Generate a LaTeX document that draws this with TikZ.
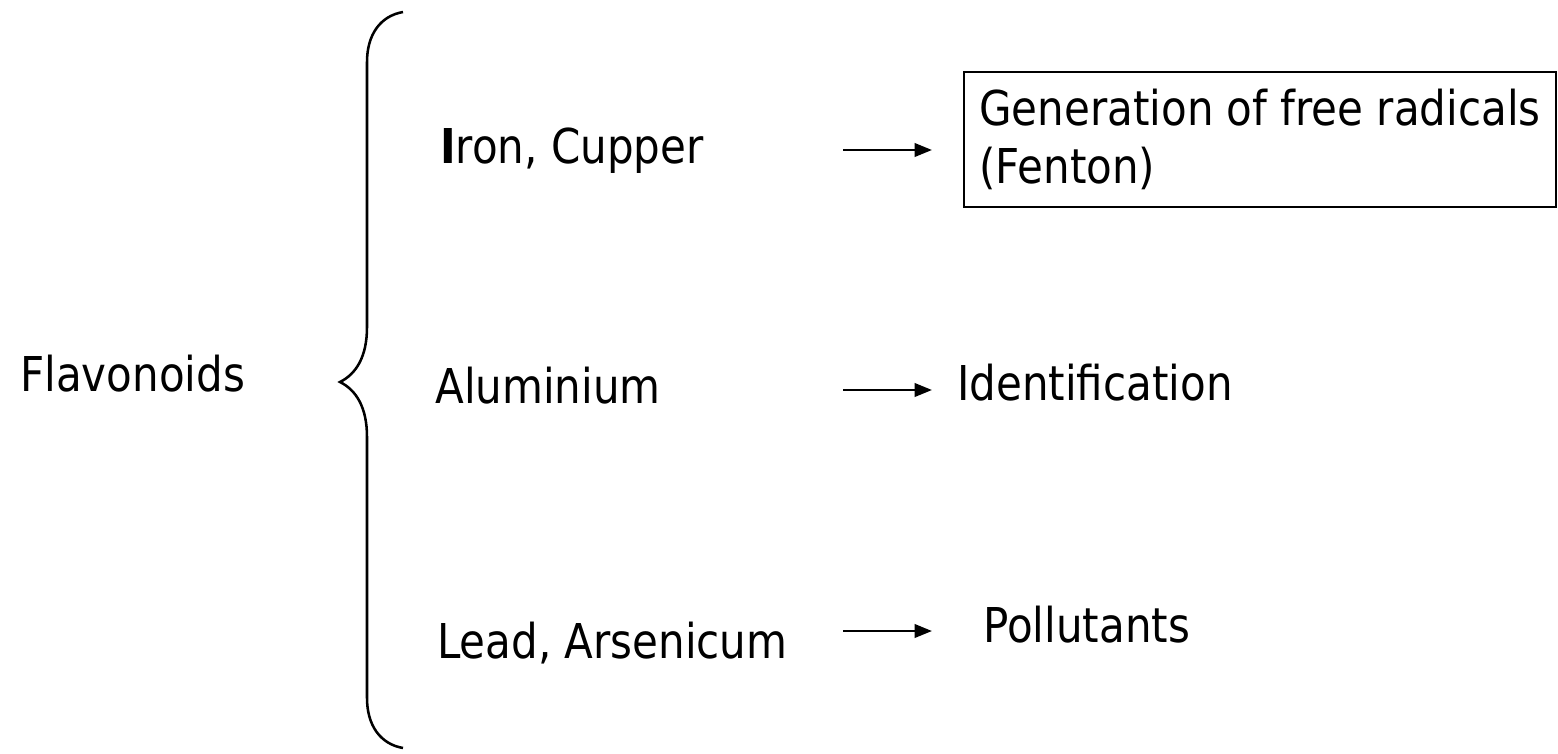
\documentclass[tikz,border=0pt]{standalone}
\usepackage{fontspec}
\setmainfont{DejaVu Sans}[FakeStretch=0.875]
\usetikzlibrary{arrows.meta}

\tikzset{
  lbl/.style={anchor=base west,inner sep=0pt,font=\fontsize{36}{43}\selectfont},
  arr/.style={line width=2pt,-{Triangle[length=13pt,width=10pt]}},
  brc/.style={line width=1.9pt},
  fbox/.style={draw,line width=1.7pt,align=left,inner xsep=9pt,inner ysep=0pt,
    minimum width=444pt,minimum height=101pt,font=\fontsize{36}{44}\selectfont}
}

\begin{document}
\begin{tikzpicture}[x=0.75pt,y=0.75pt,yscale=-1,xscale=1]
\useasboundingbox (0,0) rectangle (1558,753);

% Text Node
\node[lbl] (flav) at (20,391) {Flavonoids};

%Shape: Brace
\draw[brc] (403,12) .. controls (380,16) and (367,35) .. (367,62) -- (367,327)
  .. controls (367,357) and (356,374) .. (340,382)
  .. controls (356,390) and (367,407) .. (367,437) -- (367,698)
  .. controls (367,725) and (380,744) .. (403,748);

% Text Node
\node[lbl] (iron) at (440,163) {{\bfseries I}ron, Cupper};
% Text Node
\node[lbl] (alu) at (435,403) {Aluminium};
% Text Node
\node[lbl] (lead) at (437,658) {Lead, Arsenicum};

% Text Node
\node[fbox] (gen) at (1260,139.5) {Generation of free radicals\\(Fenton)};
% Text Node
\node[lbl] (ident) at (957,400) {Identification};
% Text Node
\node[lbl] (poll) at (983,642) {Pollutants};

%Straight Lines
\coordinate (t1) at (843,150);
\coordinate (h1) at (932,150);
\coordinate (t2) at (843,390);
\coordinate (h2) at (932,390);
\coordinate (t3) at (843,631);
\coordinate (h3) at (932,631);
\draw[arr] (t1) -- (h1);
\draw[arr] (t2) -- (h2);
\draw[arr] (t3) -- (h3);

\end{tikzpicture}
\end{document}
